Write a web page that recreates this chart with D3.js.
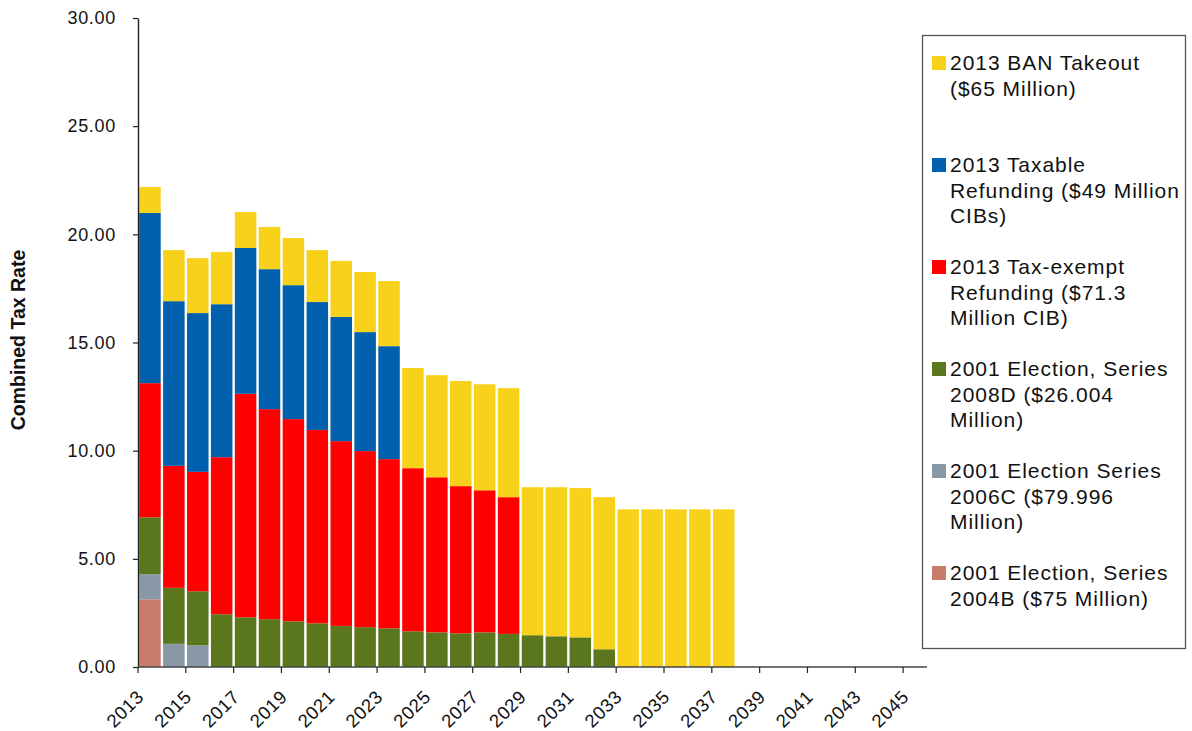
<!DOCTYPE html>
<html>
<head>
<meta charset="utf-8">
<script src="https://cdn.jsdelivr.net/npm/d3@7"></script>
<style>
  html, body { margin: 0; padding: 0; background: #fff; }
  svg { display: block; font-family: "Liberation Sans", Arial, sans-serif; }
</style>
</head>
<body>
<svg id="chart" width="1192" height="731"></svg>
<script>
// Fiscal years on the category axis
const years = [2013, 2014, 2015, 2016, 2017, 2018, 2019, 2020, 2021, 2022, 2023,
  2024, 2025, 2026, 2027, 2028, 2029, 2030, 2031, 2032, 2033, 2034, 2035, 2036,
  2037, 2038, 2039, 2040, 2041, 2042, 2043, 2044, 2045];

// Tax rate contribution of each bond issue, per year (stacked bottom to top)
const series2004B = [3.13, 0, 0, 0, 0, 0, 0, 0, 0, 0, 0, 0, 0, 0, 0, 0, 0, 0, 0, 0,
  0, 0, 0, 0, 0, 0, 0, 0, 0, 0, 0, 0, 0];
const series2006C = [1.16, 1.07, 1.00, 0, 0, 0, 0, 0, 0, 0, 0, 0, 0, 0, 0, 0, 0, 0,
  0, 0, 0, 0, 0, 0, 0, 0, 0, 0, 0, 0, 0, 0, 0];
const series2008D = [2.63, 2.59, 2.50, 2.44, 2.30, 2.21, 2.11, 2.02, 1.90, 1.84, 1.79,
  1.65, 1.60, 1.56, 1.60, 1.53, 1.47, 1.42, 1.37, 0.82, 0, 0, 0, 0, 0, 0, 0, 0, 0,
  0, 0, 0, 0];
const taxExemptRefunding = [6.20, 5.64, 5.52, 7.26, 10.33, 9.71, 9.35, 8.94, 8.54,
  8.14, 7.82, 7.54, 7.17, 6.80, 6.57, 6.32, 0, 0, 0, 0, 0, 0, 0, 0, 0, 0, 0, 0, 0,
  0, 0, 0, 0];
const taxableRefunding = [7.87, 7.61, 7.34, 7.07, 6.74, 6.47, 6.19, 5.91, 5.74, 5.50,
  5.22, 0, 0, 0, 0, 0, 0, 0, 0, 0, 0, 0, 0, 0, 0, 0, 0, 0, 0, 0, 0, 0, 0];
const banTakeout = [1.20, 2.36, 2.54, 2.41, 1.66, 1.95, 2.18, 2.40, 2.59, 2.78, 3.01,
  4.63, 4.72, 4.86, 4.90, 5.04, 6.84, 6.89, 6.90, 7.03, 7.29, 7.29, 7.29, 7.29, 7.29,
  0, 0, 0, 0, 0, 0, 0, 0];

// Y axis ticks
const yTicks = [0, 5, 10, 15, 20, 25, 30];

// Legend entries (top to bottom) and their wrapped text lines
const legendKeys = ["ban", "taxable", "exempt", "s2008D", "s2006C", "s2004B"];
const legendLines = [
  ["2013 BAN Takeout", "($65 Million)"],
  ["2013 Taxable", "Refunding ($49 Million", "CIBs)"],
  ["2013 Tax-exempt", "Refunding ($71.3", "Million CIB)"],
  ["2001 Election, Series", "2008D ($26.004", "Million)"],
  ["2001 Election Series", "2006C ($79.996", "Million)"],
  ["2001 Election, Series", "2004B ($75 Million)"]
];

// Stack order, bottom first
const stackKeys = ["s2004B", "s2006C", "s2008D", "exempt", "taxable", "ban"];
const colors = {
  s2004B: "#c97c6a",
  s2006C: "#8898a6",
  s2008D: "#5b771d",
  exempt: "#ff0000",
  taxable: "#0060ad",
  ban: "#f8d21a"
};

const table = years.map((yr, i) => ({
  year: yr,
  s2004B: series2004B[i],
  s2006C: series2006C[i],
  s2008D: series2008D[i],
  exempt: taxExemptRefunding[i],
  taxable: taxableRefunding[i],
  ban: banTakeout[i]
}));

const svg = d3.select("#chart");
const plot = { left: 138, right: 927, top: 18, bottom: 667 };

const x = d3.scaleBand()
  .domain(years)
  .range([plot.left, plot.right])
  .paddingInner(0.1)
  .paddingOuter(0.05);

const y = d3.scaleLinear()
  .domain([0, 30])
  .range([plot.bottom, plot.top]);

const stacked = d3.stack().keys(stackKeys)(table);

// Bars
svg.append("g")
  .selectAll("g")
  .data(stacked)
  .join("g")
  .attr("fill", d => colors[d.key])
  .selectAll("rect")
  .data(d => d.filter(s => s[1] - s[0] > 0))
  .join("rect")
  .attr("x", d => x(d.data.year))
  .attr("width", x.bandwidth())
  .attr("y", d => y(d[1]))
  .attr("height", d => y(d[0]) - y(d[1]));

// Y axis
const yAxis = svg.append("g")
  .attr("transform", `translate(${plot.left},0)`)
  .call(d3.axisLeft(y).tickValues(yTicks).tickFormat(d3.format(".2f"))
    .tickSizeInner(5).tickSizeOuter(0).tickPadding(17));
yAxis.select(".domain").attr("stroke", "#222").attr("stroke-width", 1.4);
yAxis.selectAll(".tick line").attr("stroke", "#222").attr("stroke-width", 1.2);
yAxis.selectAll(".tick text")
  .attr("fill", "#111")
  .style("font-size", "18px")
  .style("letter-spacing", "0.7px");

// X axis: baseline, ticks between every second category, labels on odd years
const xAxis = svg.append("g");
xAxis.append("line")
  .attr("x1", plot.left).attr("x2", plot.right)
  .attr("y1", y(0)).attr("y2", y(0))
  .attr("stroke", "#444").attr("stroke-width", 1.6);

const step = x.step();
const edge = i => x(years[i]) - (x.paddingInner() * step) / 2;
const tickIdx = years.map((d, i) => i).filter(i => i % 2 === 0);

xAxis.selectAll("line.tick")
  .data(tickIdx)
  .join("line")
  .attr("class", "tick")
  .attr("x1", i => i === 0 ? plot.left : edge(i))
  .attr("x2", i => i === 0 ? plot.left : edge(i))
  .attr("y1", y(0))
  .attr("y2", y(0) + 6)
  .attr("stroke", "#222").attr("stroke-width", 1.2);

xAxis.selectAll("text")
  .data(tickIdx)
  .join("text")
  .attr("transform", i => `translate(${x(years[i]) + x.bandwidth() / 2 - 5},${y(0) + 31}) rotate(-45)`)
  .attr("text-anchor", "end")
  .attr("fill", "#111")
  .style("font-size", "18.5px")
  .style("letter-spacing", "0.6px")
  .text(i => years[i]);

// Y axis title
svg.append("text")
  .attr("transform", `translate(25,340) rotate(-90)`)
  .attr("text-anchor", "middle")
  .attr("fill", "#111")
  .style("font-size", "19.5px")
  .style("font-weight", "bold")
  .text("Combined Tax Rate");

// Legend
const legend = svg.append("g");
legend.append("rect")
  .attr("x", 922.5).attr("y", 35.5)
  .attr("width", 263).attr("height", 613)
  .attr("fill", "#fff")
  .attr("stroke", "#555").attr("stroke-width", 1.3);

const entryTop = 70, entryGap = 102, lineGap = 25.6;
legendKeys.forEach((key, k) => {
  const base = entryTop + k * entryGap;
  legend.append("rect")
    .attr("x", 932).attr("y", base - 14)
    .attr("width", 14).attr("height", 14)
    .attr("fill", colors[key]);
  const t = legend.append("text")
    .attr("x", 950).attr("y", base)
    .attr("fill", "#111")
    .style("font-size", "21px")
    .style("letter-spacing", "0.95px");
  legendLines[k].forEach((ln, j) => {
    t.append("tspan").attr("x", 950).attr("y", base + j * lineGap).text(ln);
  });
});
</script>
</body>
</html>
